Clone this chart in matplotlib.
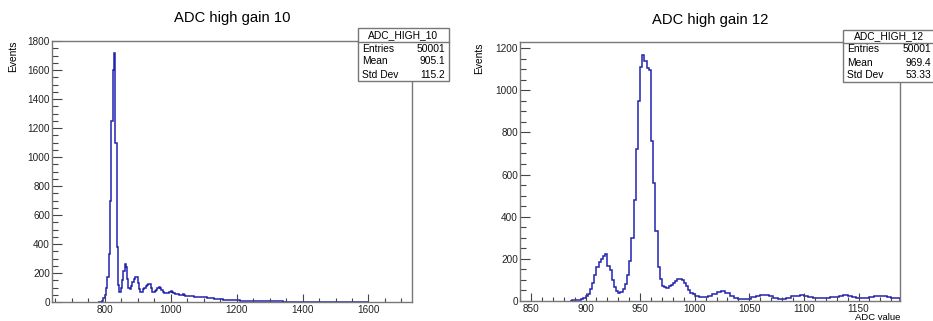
import numpy as np
import matplotlib
matplotlib.use("Agg")
import matplotlib.pyplot as plt
from matplotlib.patches import Rectangle
from matplotlib.ticker import MultipleLocator

plt.rcParams['font.family'] = ['Liberation Sans', 'DejaVu Sans']

# ---- ADC_HIGH_10 : 4-unit bins 780..1060, then 10-unit bins 1060..1600
h10_fine_edges = np.arange(780, 1061, 4)
h10_fine = [0, 1, 3, 8, 25, 50, 95, 170, 330, 700, 1250, 1600, 1720, 1100,
            380, 120, 72, 95, 150, 215, 262, 240, 160, 100, 88, 110, 140, 160,
            175, 170, 130, 90, 68, 72, 88, 100, 112, 120, 125, 122, 95, 72,
            68, 75, 85, 95, 102, 95, 82, 70, 62, 60, 62, 65, 70, 75, 72, 62,
            56, 52, 55, 50, 47, 50, 52, 48, 44, 42, 40, 39]
h10_tail_edges = np.arange(1060, 1601, 10)
h10_tail = [38, 36, 32, 34, 36, 30, 26, 24, 20, 18, 17, 15, 14, 12, 11, 10,
            10, 9, 9, 8, 8, 7, 7, 7, 6, 6, 5, 4, 3, 3, 2, 2, 2, 1, 1, 1, 1, 1,
            0, 1, 1, 0, 1, 1, 0, 1, 0, 0, 1, 0, 1, 0, 0, 1]

# ---- ADC_HIGH_12 : 2-unit bins 886..1000, then 4-unit bins 1000..1188
h12_fine_edges = np.arange(886, 1001, 2)
h12_fine = [0, 1, 2, 3, 5, 8, 12, 20, 32, 55, 85, 120, 160, 185, 200, 212,
            220, 165, 145, 100, 65, 45, 38, 40, 55, 80, 120, 190, 300, 480,
            720, 950, 1110, 1170, 1140, 1105, 1095, 760, 560, 330, 160, 105,
            72, 65, 62, 68, 75, 85, 95, 102, 105, 100, 85, 68, 50, 38, 32]
h12_tail_edges = np.arange(1000, 1189, 4)
h12_tail = [24, 18, 16, 20, 30, 42, 45, 35, 22, 14, 9, 6, 10, 18, 24, 27, 28,
            24, 15, 10, 10, 14, 20, 24, 26, 22, 18, 14, 12, 11, 13, 16, 19,
            22, 28, 24, 18, 14, 12, 14, 17, 20, 22, 20, 17, 14, 11]

titles = ["ADC high gain 10", "ADC high gain 12"]
stat_names = ["ADC_HIGH_10", "ADC_HIGH_12"]
stat_rows = [[("Entries", "50001"), ("Mean", "905.1"), ("Std Dev", "115.2")],
             [("Entries", "50001"), ("Mean", "969.4"), ("Std Dev", "53.33")]]

W, H = 933, 321
LINE = '#2323b0'
FRAME = '#777777'


def fx(x):
    return x / W


def fy(y):
    return 1 - y / H


fig = plt.figure(figsize=(W / 100, H / 100), dpi=100)

ax1 = fig.add_axes([fx(52), fy(302), (412 - 52) / W, (302 - 41) / H])
ax2 = fig.add_axes([fx(520), fy(300.7), (900 - 520) / W, (300.7 - 42) / H])

edges10 = np.concatenate([h10_fine_edges, h10_tail_edges[1:]])
counts10 = np.array(h10_fine + h10_tail)
edges12 = np.concatenate([h12_fine_edges, h12_tail_edges[1:]])
counts12 = np.array(h12_fine + h12_tail)

ax1.stairs(counts10, edges10, color=LINE, lw=1.1)
ax2.stairs(counts12, edges12, color=LINE, lw=1.1)

ax1.set_xlim(640, 1732)
ax1.set_ylim(0, 1800)
ax2.set_xlim(840, 1188)
ax2.set_ylim(0, 1230)

ax1.xaxis.set_major_locator(MultipleLocator(200))
ax1.xaxis.set_minor_locator(MultipleLocator(50))
ax2.xaxis.set_major_locator(MultipleLocator(50))
ax2.xaxis.set_minor_locator(MultipleLocator(10))
for ax in (ax1, ax2):
    ax.yaxis.set_major_locator(MultipleLocator(200))
    ax.yaxis.set_minor_locator(MultipleLocator(50))
    for s in ax.spines.values():
        s.set_color(FRAME)
        s.set_linewidth(1.0)
    ax.tick_params(which='both', direction='in', colors='#444444',
                   labelcolor='#222222', labelsize=7.2, width=0.8)
    ax.tick_params(axis='y', which='major', length=7.2, pad=1.5)
    ax.tick_params(axis='y', which='minor', length=4)
    ax.tick_params(axis='x', which='major', length=5.8, pad=2.5)
    ax.tick_params(axis='x', which='minor', length=2.9)

# titles and axis titles
fig.text(fx(232), fy(18), titles[0], ha='center', va='center', fontsize=10.6)
fig.text(fx(710), fy(20), titles[1], ha='center', va='center', fontsize=10.6)
fig.text(fx(13), fy(40), "Events", rotation=90, ha='center', va='top', fontsize=7.4)
fig.text(fx(479), fy(42), "Events", rotation=90, ha='center', va='top', fontsize=7.4)
fig.text(fx(900), fy(320.5), "ADC value", ha='right', va='baseline', fontsize=6.8)

# stats boxes (x0, y0, x1, y1, header line y)
stat_boxes = [(358, 28, 449, 81, 42), (843, 30, 935, 82, 43)]
for (x0, y0, x1, y1, yh), name, rows in zip(stat_boxes, stat_names, stat_rows):
    fig.add_artist(Rectangle((fx(x0), fy(y1)), (x1 - x0) / W, (y1 - y0) / H,
                             transform=fig.transFigure, facecolor='white',
                             edgecolor=FRAME, lw=1.0, zorder=5))
    fig.add_artist(plt.Line2D([fx(x0), fx(x1)], [fy(yh), fy(yh)],
                              transform=fig.transFigure, color=FRAME, lw=1.0,
                              zorder=6))
    fig.text(fx((x0 + x1) / 2), fy((y0 + yh) / 2), name, ha='center',
             va='center', fontsize=7.4, zorder=7)
    row_h = (y1 - yh) / 3
    for i, (lab, val) in enumerate(rows):
        yy = fy(yh + row_h * (i + 0.5))
        fig.text(fx(x0 + 4), yy, lab, ha='left', va='center', fontsize=7.4, zorder=7)
        fig.text(fx(x1 - 4), yy, val, ha='right', va='center', fontsize=7.4, zorder=7)

fig.savefig("out.png", dpi=100)
